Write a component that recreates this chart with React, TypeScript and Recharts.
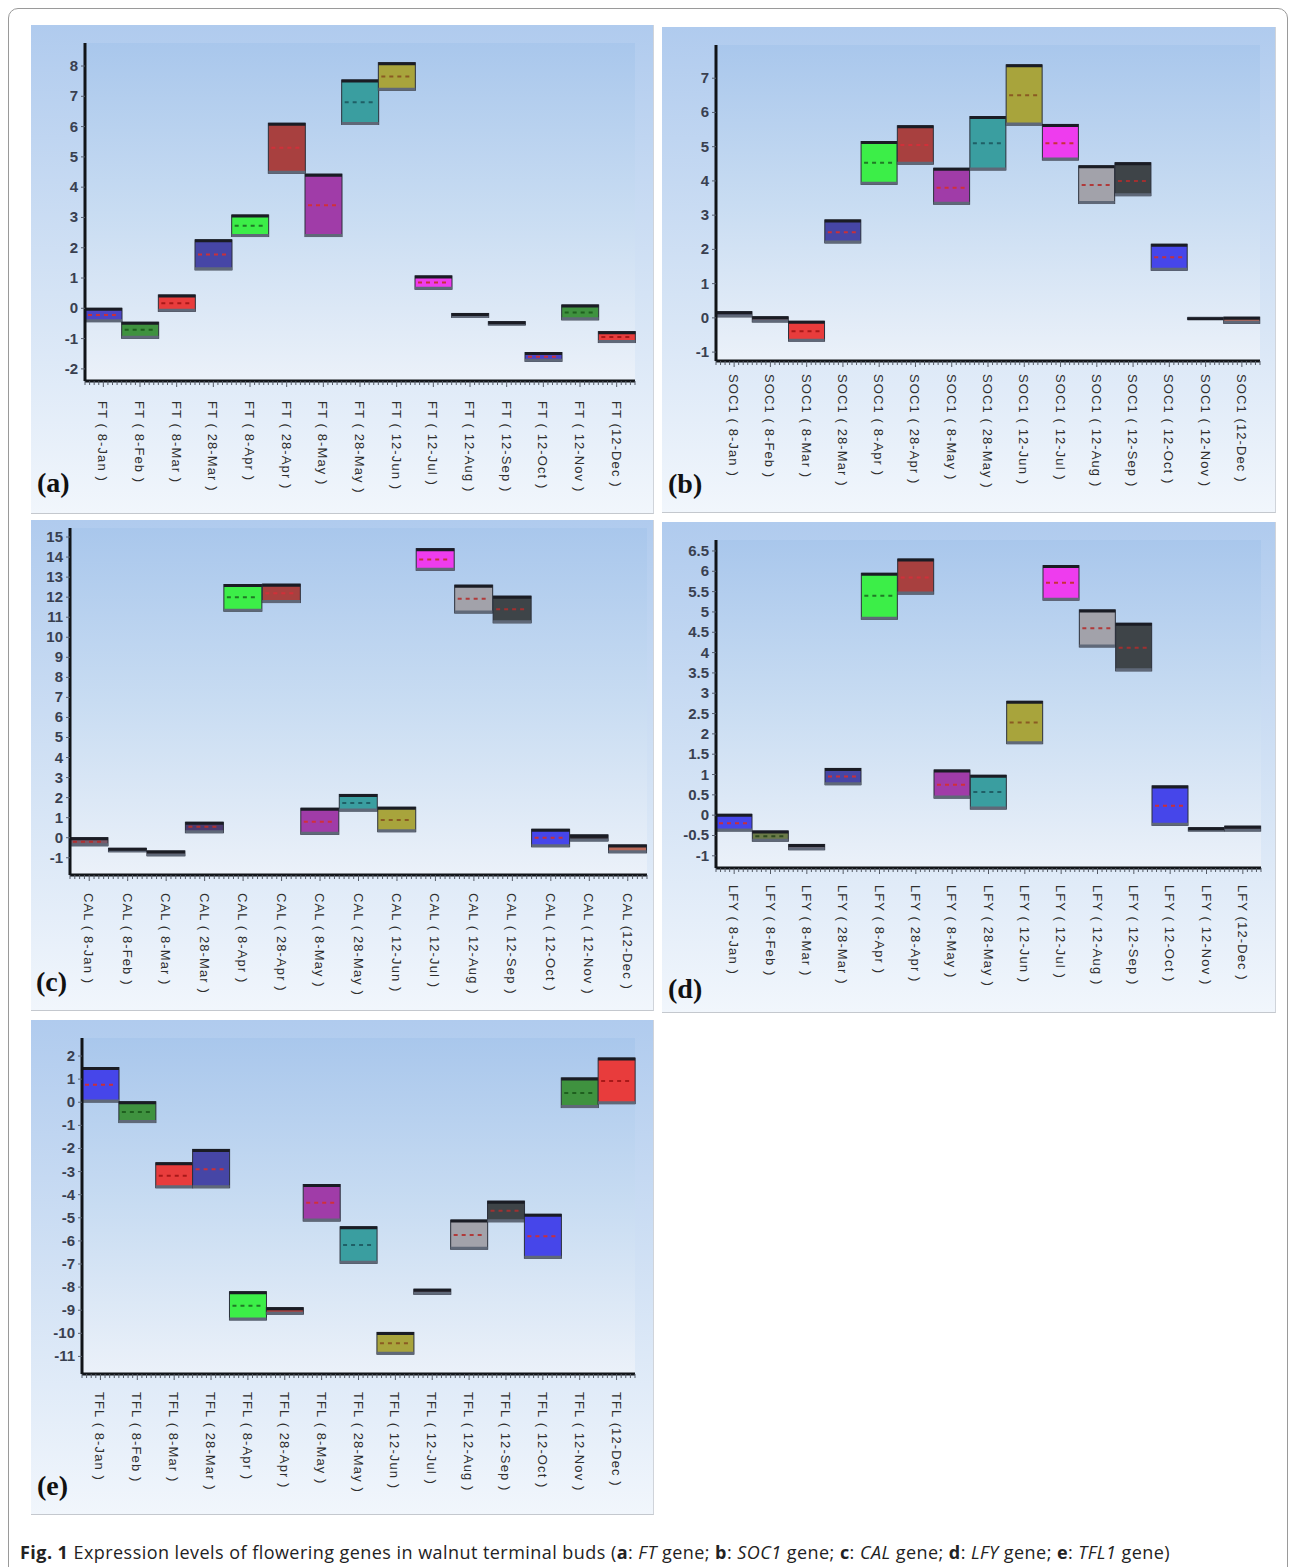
import React from 'react';
import { ComposedChart, Bar, XAxis, YAxis, CartesianGrid } from 'recharts';

// sampling dates, same for every gene
const dateTags = [
  '( 8-Jan )', '( 8-Feb )', '( 8-Mar )', '( 28-Mar )', '( 8-Apr )', '( 28-Apr )', '( 8-May )',
  '( 28-May )', '( 12-Jun )', '( 12-Jul )', '( 12-Aug )', '( 12-Sep )', '( 12-Oct )', '( 12-Nov )', '(12-Dec )',
];

// FT
const ftHigh = [0.0, -0.46, 0.44, 2.26, 3.08, 6.11, 4.43, 7.54, 8.11, 1.07, -0.17, -0.44, -1.46, 0.11, -0.77];
const ftLow = [-0.44, -0.99, -0.1, 1.27, 2.37, 4.46, 2.37, 6.07, 7.2, 0.63, -0.3, -0.55, -1.75, -0.38, -1.13];
const ftMean = [-0.22, -0.71, 0.17, 1.78, 2.73, 5.3, 3.4, 6.8, 7.65, 0.85, -0.22, -0.5, -1.6, -0.14, -0.95];
const ftTicks = [-2, -1, 0, 1, 2, 3, 4, 5, 6, 7, 8];

// SOC1
const socHigh = [0.18, 0.03, -0.1, 2.86, 5.15, 5.61, 4.37, 5.88, 7.39, 5.65, 4.44, 4.53, 2.15, 0.0, 0.02];
const socLow = [0.03, -0.12, -0.68, 2.19, 3.9, 4.49, 3.32, 4.32, 5.63, 4.61, 3.34, 3.57, 1.39, -0.04, -0.16];
const socMean = [0.1, -0.05, -0.39, 2.5, 4.53, 5.05, 3.8, 5.1, 6.5, 5.1, 3.88, 4.0, 1.77, -0.02, -0.07];
const socTicks = [-1, 0, 1, 2, 3, 4, 5, 6, 7];

// CAL
const calHigh = [0.0, -0.53, -0.66, 0.77, 12.63, 12.65, 1.47, 2.16, 1.52, 14.42, 12.6, 12.05, 0.42, 0.14, -0.36];
const calLow = [-0.4, -0.7, -0.9, 0.25, 11.3, 11.73, 0.17, 1.33, 0.3, 13.34, 11.21, 10.72, -0.45, -0.16, -0.75];
const calMean = [-0.2, -0.6, -0.78, 0.55, 12.0, 12.2, 0.8, 1.73, 0.88, 13.88, 11.92, 11.4, 0.0, 0.0, -0.55];
const calTicks = [-1, 0, 1, 2, 3, 4, 5, 6, 7, 8, 9, 10, 11, 12, 13, 14, 15];

// LFY
const lfyHigh = [0.02, -0.39, -0.72, 1.15, 5.95, 6.3, 1.11, 0.98, 2.8, 6.14, 5.05, 4.72, 0.72, -0.31, -0.27];
const lfyLow = [-0.39, -0.64, -0.85, 0.75, 4.82, 5.44, 0.42, 0.15, 1.76, 5.29, 4.14, 3.55, -0.25, -0.39, -0.39];
const lfyMean = [-0.2, -0.52, -0.78, 0.95, 5.4, 5.85, 0.75, 0.57, 2.28, 5.72, 4.6, 4.12, 0.23, -0.35, -0.33];
const lfyTicks = [-1, -0.5, 0, 0.5, 1, 1.5, 2, 2.5, 3, 3.5, 4, 4.5, 5, 5.5, 6, 6.5];

// TFL1
const tflHigh = [1.5, 0.02, -2.62, -2.04, -8.2, -8.89, -3.56, -5.39, -9.96, -8.09, -5.1, -4.28, -4.85, 1.05, 1.91];
const tflLow = [0.01, -0.88, -3.7, -3.7, -9.42, -9.17, -5.14, -6.97, -10.9, -8.31, -6.36, -5.17, -6.75, -0.23, -0.06];
const tflMean = [0.76, -0.42, -3.18, -2.9, -8.81, -9.03, -4.35, -6.18, -10.43, -8.2, -5.74, -4.7, -5.8, 0.4, 0.92];
const tflTicks = [-11, -10, -9, -8, -7, -6, -5, -4, -3, -2, -1, 0, 1, 2];

// box colours
const P = {
  blue: { fill: '#4646ea', dash: '#c8303a' },
  indigo: { fill: '#4c44c4', dash: '#c8303a' },
  navy: { fill: '#4646a6', dash: '#c8303a' },
  greenD: { fill: '#3f923f', dash: '#1f5f1f' },
  greenB: { fill: '#3cee48', dash: '#1f7a25' },
  red: { fill: '#e83c3c', dash: '#a81818' },
  brown: { fill: '#a8403f', dash: '#d0303a' },
  purple: { fill: '#a03ca8', dash: '#d0303a' },
  teal: { fill: '#3a9ea0', dash: '#1f5f66' },
  olive: { fill: '#a8a43c', dash: '#8a5a22' },
  magenta: { fill: '#ee3cee', dash: '#c8303a' },
  gray: { fill: '#a2a2aa', dash: '#b03a3a' },
  dark: { fill: '#3e4448', dash: '#a03030' },
  salmon: { fill: '#b86858', dash: '#b03030' },
  mauve: { fill: '#7a5a6a', dash: '#b03030' },
  plum: { fill: '#4a3a6e', dash: '#b03030' },
  line: { fill: '#2a2228', dash: '#2a2228' },
  slate: { fill: '#7a7a80', dash: '#7a7a80' },
  khaki: { fill: '#6a7a48', dash: '#2e4a1e' },
};

const ftColors = [P.indigo, P.greenD, P.red, P.navy, P.greenB, P.brown, P.purple, P.teal, P.olive, P.magenta, P.line, P.line, P.indigo, P.greenD, P.red];
const socColors = [P.plum, P.mauve, P.red, P.navy, P.greenB, P.brown, P.purple, P.teal, P.olive, P.magenta, P.gray, P.dark, P.blue, P.slate, P.salmon];
const calColors = [P.mauve, P.mauve, P.mauve, P.plum, P.greenB, P.brown, P.purple, P.teal, P.olive, P.magenta, P.gray, P.dark, P.blue, P.line, P.salmon];
const lfyColors = [P.blue, P.khaki, P.mauve, P.navy, P.greenB, P.brown, P.purple, P.teal, P.olive, P.magenta, P.gray, P.dark, P.blue, P.line, P.mauve];
const tflColors = [P.blue, P.greenD, P.red, P.navy, P.greenB, P.brown, P.purple, P.teal, P.olive, P.mauve, P.gray, P.dark, P.blue, P.greenD, P.red];

const buildRows = (gene: string, low: number[], high: number[], mean: number[], colors: any[]) =>
  dateTags.map((t, i) => ({
    label: `${gene} ${t}`,
    range: [low[i], high[i]],
    low: low[i],
    high: high[i],
    mean: mean[i],
    color: colors[i].fill,
    dash: colors[i].dash,
  }));

const BoxShape = (props: any) => {
  const { x, y, width, height, payload } = props;
  if (x == null || y == null || !payload) return null;
  const top = Math.min(y, y + height);
  const h = Math.max(Math.abs(height), 1);
  const span = payload.high - payload.low;
  const my = span > 0 ? top + ((payload.high - payload.mean) / span) * h : top;
  return (
    <g>
      <rect x={x} y={top} width={width} height={h} fill={payload.color} stroke="#2a2f3a" strokeWidth={1} />
      <line x1={x} x2={x + width} y1={top + h - 1} y2={top + h - 1} stroke="#5f6878" strokeWidth={3} />
      <line x1={x} x2={x + width} y1={top + 1} y2={top + 1} stroke="#1a1c24" strokeWidth={3} />
      {h > 8 && (
        <line x1={x + 3} x2={x + width - 3} y1={my} y2={my} stroke={payload.dash} strokeWidth={2} strokeDasharray="4 4" />
      )}
    </g>
  );
};

const makeXTick = (bw: number, offset: number, n: number) => (props: any) => {
  const { x, y, payload, index } = props;
  const marks = [-0.5, -0.375, -0.25, -0.125, 0, 0.125, 0.25, 0.375];
  if (index === n - 1) marks.push(0.5);
  return (
    <g>
      {marks.map((k) => (
        <line key={k} x1={x + k * bw} x2={x + k * bw} y1={y} y2={y + (k === 0 ? 6 : 4)} stroke="#555b66" strokeWidth={1} />
      ))}
      <text
        transform={`translate(${x - 5},${y + offset}) rotate(90)`}
        fontSize={13}
        fill="#2e2e2e"
        letterSpacing={1.1}
        fontFamily="Liberation Sans, Arial, sans-serif"
      >
        {payload.value}
      </text>
    </g>
  );
};

const YTick = (props: any) => {
  const { x, y, payload } = props;
  return (
    <text
      x={x}
      y={y}
      dy={5}
      textAnchor="end"
      fontSize={15}
      fontWeight={700}
      fill="#394050"
      fontFamily="Liberation Sans, Arial, sans-serif"
    >
      {payload.value}
    </text>
  );
};

interface PanelProps {
  id: string;
  tag: string;
  left: number;
  top: number;
  width: number;
  height: number;
  yw: number;
  mt: number;
  mr: number;
  xh: number;
  labelOffset: number;
  domain: [number, number];
  ticks: number[];
  rows: any[];
  tagLeft: number;
  tagTop: number;
}

const Panel = (p: PanelProps) => {
  const plotW = p.width - p.yw - p.mr;
  const bw = plotW / p.rows.length;
  const XTick = makeXTick(bw, p.labelOffset, p.rows.length);
  return (
    <>
      <div
        style={{
          position: 'absolute',
          left: p.left,
          top: p.top,
          width: p.width,
          height: p.height,
          background: 'linear-gradient(180deg, #b0cbee 0%, #d4e3f5 55%, #f1f6fc 100%)',
          borderBottom: '1px solid #c4c8ce',
          borderRight: '1px solid #d0d4da',
        }}
      >
        <ComposedChart
          width={p.width}
          height={p.height}
          data={p.rows}
          barCategoryGap={0}
          margin={{ top: p.mt, right: p.mr, left: 0, bottom: 0 }}
        >
          <defs>
            <linearGradient id={`plot-${p.id}`} x1="0" y1="0" x2="0" y2="1">
              <stop offset="0%" stopColor="#a9c7ec" />
              <stop offset="50%" stopColor="#c8dcf2" />
              <stop offset="100%" stopColor="#ebf1f9" />
            </linearGradient>
          </defs>
          <CartesianGrid horizontal={false} vertical={false} fill={`url(#plot-${p.id})`} />
          <XAxis
            dataKey="label"
            interval={0}
            height={p.xh}
            tickSize={0}
            tickMargin={0}
            tickLine={false}
            axisLine={{ stroke: '#111418', strokeWidth: 3 }}
            tick={<XTick />}
          />
          <XAxis
            xAxisId="top"
            dataKey="label"
            orientation="top"
            height={0}
            tick={false}
            tickLine={false}
            axisLine={{ stroke: '#34404e', strokeWidth: 2 }}
          />
          <YAxis
            type="number"
            domain={p.domain}
            ticks={p.ticks}
            allowDataOverflow
            interval={0}
            width={p.yw}
            tickSize={4}
            tickMargin={3}
            tickLine={{ stroke: '#5a6270' }}
            axisLine={{ stroke: '#111418', strokeWidth: 3 }}
            tick={<YTick />}
          />
          <YAxis
            yAxisId="right"
            orientation="right"
            type="number"
            domain={p.domain}
            allowDataOverflow
            width={0}
            tick={false}
            tickLine={false}
            axisLine={{ stroke: '#3a4556', strokeWidth: 2 }}
          />
          <Bar dataKey="range" shape={<BoxShape />} isAnimationActive={false} />
        </ComposedChart>
      </div>
      <div
        style={{
          position: 'absolute',
          left: p.tagLeft,
          top: p.tagTop,
          fontFamily: 'Liberation Serif, Times New Roman, serif',
          fontWeight: 700,
          fontSize: 28,
          lineHeight: 1,
          color: '#111',
        }}
      >
        {p.tag}
      </div>
    </>
  );
};

export default function App() {
  const ftRows = buildRows('FT', ftLow, ftHigh, ftMean, ftColors);
  const socRows = buildRows('SOC1', socLow, socHigh, socMean, socColors);
  const calRows = buildRows('CAL', calLow, calHigh, calMean, calColors);
  const lfyRows = buildRows('LFY', lfyLow, lfyHigh, lfyMean, lfyColors);
  const tflRows = buildRows('TFL', tflLow, tflHigh, tflMean, tflColors);

  return (
    <div style={{ position: 'absolute', left: 0, top: 0, width: 1295, height: 1567, overflow: 'hidden', background: '#fff' }}>
      <div
        style={{
          position: 'absolute',
          left: 8,
          top: 8,
          width: 1278,
          height: 1600,
          border: '1px solid #9a9a9a',
          borderRadius: 10,
        }}
      />
      <Panel id="a" tag="(a)" left={31} top={25} width={622} height={488} yw={54} mt={18} mr={18} xh={132}
        labelOffset={20} domain={[-2.4, 8.76]} ticks={ftTicks} rows={ftRows} tagLeft={37} tagTop={469} />
      <Panel id="b" tag="(b)" left={662} top={27} width={613} height={485} yw={54} mt={18} mr={15} xh={151}
        labelOffset={13} domain={[-1.26, 7.97]} ticks={socTicks} rows={socRows} tagLeft={668} tagTop={470} />
      <Panel id="c" tag="(c)" left={31} top={520} width={622} height={490} yw={39} mt={8} mr={6} xh={135}
        labelOffset={18} domain={[-1.86, 15.45]} ticks={calTicks} rows={calRows} tagLeft={36} tagTop={968} />
      <Panel id="d" tag="(d)" left={662} top={522} width={613} height={490} yw={54} mt={18} mr={14} xh={144}
        labelOffset={17} domain={[-1.3, 6.77]} ticks={lfyTicks} rows={lfyRows} tagLeft={668} tagTop={975} />
      <Panel id="e" tag="(e)" left={31} top={1020} width={622} height={494} yw={51} mt={18} mr={18} xh={140}
        labelOffset={18} domain={[-11.76, 2.78]} ticks={tflTicks} rows={tflRows} tagLeft={37} tagTop={1472} />
      <div
        style={{
          position: 'absolute',
          left: 20,
          top: 1541,
          fontFamily: 'Open Sans, Noto Sans, sans-serif',
          fontSize: 18,
          letterSpacing: 0.45,
          lineHeight: '22px',
          color: '#222',
          whiteSpace: 'nowrap',
        }}
      >
        <b>Fig. 1</b> Expression levels of flowering genes in walnut terminal buds (<b>a</b>: <i>FT</i> gene; <b>b</b>:{' '}
        <i>SOC1</i> gene; <b>c</b>: <i>CAL</i> gene; <b>d</b>: <i>LFY</i> gene; <b>e</b>: <i>TFL1</i> gene)
      </div>
    </div>
  );
}
